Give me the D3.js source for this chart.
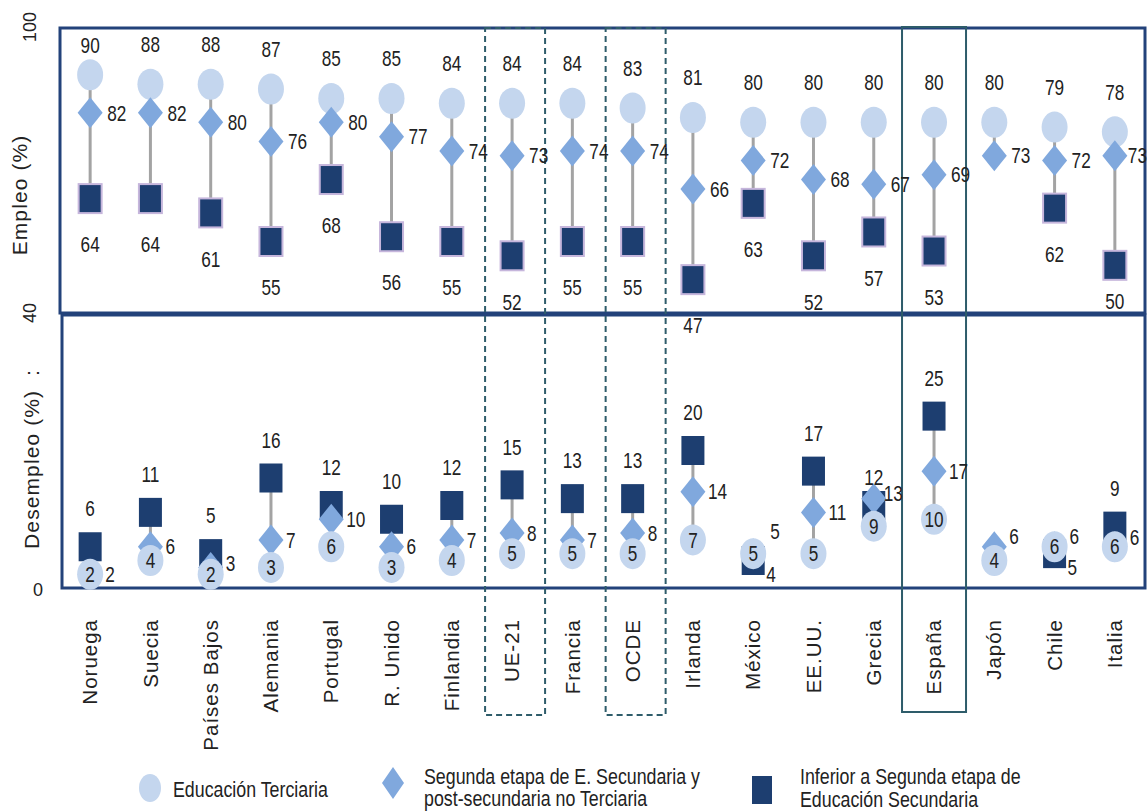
<!DOCTYPE html>
<html>
<head>
<meta charset="utf-8">
<script src="https://cdn.jsdelivr.net/npm/d3@7/dist/d3.min.js"></script>
<style>
  body { margin: 0; background: #fff; }
  svg { display: block; }
</style>
</head>
<body>
<svg id="chart" width="1148" height="812"></svg>
<script>
// Countries / aggregates along the horizontal axis
const categories = ["Noruega", "Suecia", "Países Bajos", "Alemania", "Portugal", "R. Unido",
  "Finlandia", "UE-21", "Francia", "OCDE", "Irlanda", "México", "EE.UU.", "Grecia",
  "España", "Japón", "Chile", "Italia"];

// Employment rate (%) by education level
const empTerciaria  = [90, 88, 88, 87, 85, 85, 84, 84, 84, 83, 81, 80, 80, 80, 80, 80, 79, 78];
const empSecundaria = [82, 82, 80, 76, 80, 77, 74, 73, 74, 74, 66, 72, 68, 67, 69, 73, 72, 73];
const empInferior   = [64, 64, 61, 55, 68, 56, 55, 52, 55, 55, 47, 63, 52, 57, 53, null, 62, 50];

// Unemployment rate (%) by education level
const desTerciaria  = [2, 4, 2, 3, 6, 3, 4, 5, 5, 5, 7, 5, 5, 9, 10, 4, 6, 6];
const desSecundaria = [2, 6, 3, 7, 10, 6, 7, 8, 7, 8, 14, 5, 11, 13, 17, 6, 6, 6];
const desInferior   = [6, 11, 5, 16, 12, 10, 12, 15, 13, 13, 20, 4, 17, 12, 25, null, 5, 9];

// Axis tick labels
const empTicks = [100, 40];
const desTicks = [40, 0];

// Framed groups
const dashedGroups = ["UE-21", "OCDE"];
const highlightGroups = ["España"];

// Legend entries
const legendLabels = [
  ["Educación Terciaria"],
  ["Segunda etapa de E. Secundaria y", "post-secundaria no Terciaria"],
  ["Inferior a Segunda etapa de", "Educación Secundaria"]
];

const COL = {
  ter: "#c4d6ee",
  sec: "#80a8dd",
  inf: "#1d3e70",
  infEdge: "#c6b6dc",
  line: "#a3a3a3",
  frame: "#23427a",
  group: "#2e5c6a",
  text: "#222"
};
const SANS = "'Liberation Sans', Arial, sans-serif";
const LABEL_SCALE = "scale(0.86,1.1)";   // condensed, slightly tall number labels

const svg = d3.select("#chart");

const x = d3.scaleBand().domain(categories).range([60, 1145]);
const cx = c => x(c) + x.bandwidth() / 2;
const yEmp = d3.scaleLinear().domain([40, 100]).range([313, 27]);
const yDes = d3.scaleLinear().domain([0, 40]).range([588, 313]);

// Rows of data per panel
const rows = categories.map((c, i) => ({
  c,
  emp: { ter: empTerciaria[i], sec: empSecundaria[i], inf: empInferior[i] },
  des: { ter: desTerciaria[i], sec: desSecundaria[i], inf: desInferior[i] }
}));

// Panel frames
svg.append("rect")
  .attr("x", 60).attr("y", yEmp(100) + 1)
  .attr("width", 1085).attr("height", yEmp(40) - yEmp(100) - 1)
  .attr("fill", "none").attr("stroke", COL.frame).attr("stroke-width", 3);
svg.append("rect")
  .attr("x", 62).attr("y", yDes(40) + 2)
  .attr("width", 1083).attr("height", yDes(0) - yDes(40) - 2)
  .attr("fill", "none").attr("stroke", COL.frame).attr("stroke-width", 3);

// Group frames (dashed for aggregates, solid for highlight)
dashedGroups.forEach(g => {
  svg.append("rect")
    .attr("x", cx(g) - 27).attr("y", yEmp(100) + 1)
    .attr("width", 60).attr("height", 714 - yEmp(100))
    .attr("fill", "none").attr("stroke", COL.group)
    .attr("stroke-width", 2).attr("stroke-dasharray", "6,4");
});
highlightGroups.forEach(g => {
  svg.append("rect")
    .attr("x", cx(g) - 32).attr("y", yEmp(100))
    .attr("width", 64).attr("height", 712 - yEmp(100))
    .attr("fill", "none").attr("stroke", COL.group).attr("stroke-width", 2);
});

// Axis ticks (a value shared by both panels is written once) and titles
const tickSpots = [];
empTicks.forEach(t => tickSpots.push({ t, y: yEmp(t) }));
desTicks.forEach(t => {
  if (!tickSpots.some(s => Math.abs(s.y - yDes(t)) < 4)) tickSpots.push({ t, y: yDes(t) });
});
tickSpots.forEach(({ t, y }) => {
  const el = svg.append("text")
    .attr("text-anchor", "middle").attr("dy", "0.35em")
    .attr("font-family", SANS).attr("font-size", 18).attr("fill", COL.text)
    .text(t);
  if (t === 0) el.attr("x", 38).attr("y", y + 2);
  else el.attr("transform", `translate(30,${y}) rotate(-90)`);
});
svg.append("text")
  .attr("transform", `translate(20,195) rotate(-90)`)
  .attr("text-anchor", "middle").attr("dy", "0.35em")
  .attr("font-family", SANS).attr("font-size", 21).attr("letter-spacing", 1.1)
  .attr("fill", COL.text)
  .text("Empleo (%)");
svg.append("text")
  .attr("transform", `translate(32,459) rotate(-90)`)
  .attr("text-anchor", "middle").attr("dy", "0.35em")
  .attr("font-family", SANS).attr("font-size", 21).attr("letter-spacing", 1.1)
  .attr("fill", COL.text)
  .attr("xml:space", "preserve")
  .text("Desempleo (%)  :");

// Category labels
svg.append("g").selectAll("text").data(categories).join("text")
  .attr("transform", d => `translate(${cx(d)},619) rotate(-90)`)
  .attr("text-anchor", "end").attr("dy", "0.35em")
  .attr("font-family", SANS).attr("font-size", 20.5).attr("letter-spacing", 1)
  .attr("fill", COL.text)
  .text(d => d);

// Marker shapes
function circle(g, px, py) {
  g.append("ellipse").attr("cx", px).attr("cy", py).attr("rx", 13).attr("ry", 15.5)
    .attr("fill", COL.ter);
}
function diamond(g, px, py) {
  g.append("path")
    .attr("d", `M${px},${py - 15.5}L${px + 12.5},${py}L${px},${py + 15.5}L${px - 12.5},${py}Z`)
    .attr("fill", COL.sec);
}
function square(g, px, py, edged) {
  g.append("rect").attr("x", px - 11.5).attr("y", py - 14.5).attr("width", 23).attr("height", 29)
    .attr("fill", COL.inf)
    .attr("stroke", edged ? COL.infEdge : "none").attr("stroke-width", edged ? 2 : 0);
}
function label(g, px, py, txt, anchor) {
  g.append("text")
    .attr("transform", `translate(${px},${py}) ${LABEL_SCALE}`)
    .attr("dy", "0.35em")
    .attr("text-anchor", anchor || "middle")
    .attr("font-family", SANS).attr("font-size", 20).attr("fill", COL.text)
    .text(txt);
}

// Label nudges where markers crowd each other or the frame
const nudge = {
  "emp|ter|Noruega": [0, 11],
  "emp|inf|Italia": [0, -10],
  "emp|sec|Italia": [-4, 0],
  "des|sec|México": [2, -22],
  "des|sec|Japón": [0, -10],
  "des|sec|Chile": [0, -10],
  "des|sec|Italia": [0, -9],
  "des|sec|Países Bajos": [0, -4],
  "des|sec|Grecia": [-5, -5],
  "des|inf|Grecia": [0, 10]
};
const nd = k => nudge[k] || [0, 0];

const gLines = svg.append("g");
const gMarks = svg.append("g");
const gLabels = svg.append("g");

rows.forEach(r => {
  const px = cx(r.c);

  // ---- Employment panel
  const ev = [r.emp.ter, r.emp.sec, r.emp.inf].filter(v => v != null);
  gLines.append("line").attr("x1", px).attr("x2", px)
    .attr("y1", yEmp(d3.max(ev))).attr("y2", yEmp(d3.min(ev)))
    .attr("stroke", COL.line).attr("stroke-width", 3);
  circle(gMarks, px, yEmp(r.emp.ter));
  diamond(gMarks, px, yEmp(r.emp.sec));
  if (r.emp.inf != null) square(gMarks, px, yEmp(r.emp.inf), true);

  let n = nd(`emp|ter|${r.c}`);
  label(gLabels, px + n[0], yEmp(r.emp.ter) - 40 + n[1], r.emp.ter);
  n = nd(`emp|sec|${r.c}`);
  label(gLabels, px + 17 + n[0], yEmp(r.emp.sec) + n[1], r.emp.sec, "start");
  if (r.emp.inf != null) {
    n = nd(`emp|inf|${r.c}`);
    label(gLabels, px + n[0], yEmp(r.emp.inf) + 46 + n[1], r.emp.inf);
  }

  // ---- Unemployment panel
  const dv = [r.des.ter, r.des.sec, r.des.inf].filter(v => v != null);
  gLines.append("line").attr("x1", px).attr("x2", px)
    .attr("y1", yDes(d3.max(dv))).attr("y2", yDes(d3.min(dv)))
    .attr("stroke", COL.line).attr("stroke-width", 3);
  if (r.des.inf != null) square(gMarks, px, yDes(r.des.inf), false);
  diamond(gMarks, px, yDes(r.des.sec));
  circle(gMarks, px, yDes(r.des.ter));

  label(gLabels, px, yDes(r.des.ter), r.des.ter);
  n = nd(`des|sec|${r.c}`);
  label(gLabels, px + 15 + n[0], yDes(r.des.sec) + n[1], r.des.sec, "start");
  if (r.des.inf != null) {
    n = nd(`des|inf|${r.c}`);
    if (r.des.inf < Math.min(r.des.sec, r.des.ter)) {
      // lowest marker: value sits to the lower right
      label(gLabels, px + 13 + n[0], yDes(r.des.inf) + 14 + n[1], r.des.inf, "start");
    } else {
      label(gLabels, px + n[0], yDes(r.des.inf) - 38 + n[1], r.des.inf);
    }
  }
});

// Legend
const lg = svg.append("g");
lg.append("ellipse").attr("cx", 150).attr("cy", 788).attr("rx", 11).attr("ry", 14).attr("fill", COL.ter);
lg.append("path").attr("d", "M393,767L404,783L393,799L382,783Z").attr("fill", COL.sec);
lg.append("rect").attr("x", 752).attr("y", 776).attr("width", 20).attr("height", 28).attr("fill", COL.inf);
const legendPos = [[173, [789]], [424, [776, 798]], [800, [776, 799]]];
legendLabels.forEach((lines, i) => {
  lines.forEach((t, j) => {
    lg.append("text")
      .attr("transform", `translate(${legendPos[i][0]},${legendPos[i][1][j]}) scale(0.89,1.08)`)
      .attr("dy", "0.35em")
      .attr("font-family", SANS).attr("font-size", 20).attr("fill", COL.text).text(t);
  });
});
</script>
</body>
</html>
